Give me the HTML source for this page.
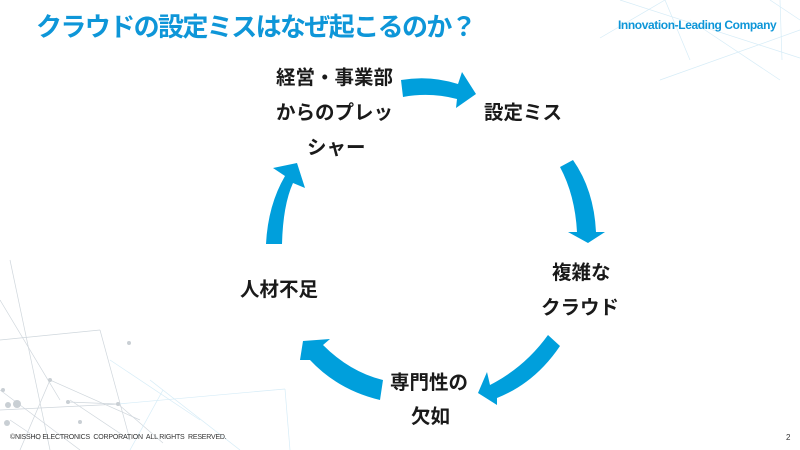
<!DOCTYPE html>
<html><head><meta charset="utf-8"><style>
html,body{margin:0;padding:0;background:#fff}
#c{position:relative;width:800px;height:450px;overflow:hidden;background:#fff;font-family:"Liberation Sans","Noto Sans CJK JP",sans-serif}
.t{position:absolute;font-weight:bold;color:#1a1a1a;font-size:19.5px;line-height:20px;white-space:nowrap}
</style></head><body><div id="c">
<svg width="800" height="450" style="position:absolute;left:0;top:0">
<g stroke="#cfd6dc" stroke-width="0.7" fill="none">
<line x1="0" y1="300" x2="60" y2="400"/><line x1="0" y1="340" x2="100" y2="330"/><line x1="10" y1="260" x2="50" y2="450"/>
<line x1="0" y1="410" x2="120" y2="404"/><line x1="50" y1="380" x2="140" y2="420"/><line x1="20" y1="450" x2="50" y2="380"/>
<line x1="70" y1="400" x2="130" y2="440"/><line x1="0" y1="390" x2="80" y2="450"/><line x1="100" y1="330" x2="130" y2="440"/>
<line x1="118" y1="404" x2="163" y2="443"/><line x1="68" y1="402" x2="118" y2="404"/><line x1="10" y1="420" x2="40" y2="440"/>
</g>
<g stroke="#d6ecf7" stroke-width="0.7" fill="none">
<line x1="118" y1="404" x2="285" y2="389"/><line x1="163" y1="390" x2="130" y2="450"/><line x1="285" y1="389" x2="290" y2="450"/>
<line x1="150" y1="380" x2="240" y2="450"/><line x1="110" y1="360" x2="200" y2="420"/>
<line x1="600" y1="38" x2="665" y2="0"/><line x1="620" y1="0" x2="800" y2="58"/><line x1="665" y1="0" x2="690" y2="60"/>
<line x1="690" y1="20" x2="780" y2="80"/><line x1="770" y1="0" x2="800" y2="20"/><line x1="780" y1="0" x2="782" y2="60"/>
<line x1="660" y1="80" x2="800" y2="30"/>
</g>
<g fill="#c9cfd4"><circle cx="8" cy="405" r="3"/><circle cx="17" cy="404" r="4"/><circle cx="50" cy="380" r="2"/><circle cx="68" cy="402" r="2"/><circle cx="118" cy="404" r="2"/><circle cx="7" cy="423" r="3"/><circle cx="3" cy="390" r="2"/><circle cx="80" cy="422" r="2"/><circle cx="129" cy="343" r="2"/></g>
<g fill="#009fdc">
<path d="M401,80 Q430,75 458,84 L462,72 L476,94 L456,108 L457,99 Q430,92 403,97 Z"/>
<path d="M560,167 L573,160 Q594,190 596,232 L605,232 L588,243 L568,232 L577,232 Q575,195 560,167 Z"/>
<path d="M548,335 L560,346 Q535,383 497,398 L497,405 L478,393 L487,372 L490,385 Q525,367 548,335 Z"/>
<path d="M383,380 L380,400 Q338,390 310,360 L300,360 L303,341 L330,339 L323,345 Q350,372 383,380 Z"/>
<path d="M266,244 L282,244 Q283,205 293,183 L305,188 L297,163 L273,168 L285,176 Q268,205 266,244 Z"/>
</g>
</svg>
<div style="position:absolute;left:36px;top:7px;font-size:26px;font-weight:bold;color:#0e96d8;letter-spacing:-1.6px;white-space:nowrap">クラウドの設定ミスはなぜ起こるのか？</div>
<div style="position:absolute;left:618px;top:18px;font-size:12px;font-weight:bold;color:#0e96d8;letter-spacing:-0.4px;white-space:nowrap">Innovation-Leading Company</div>
<div class="t" style="left:276px;top:68px">経営・事業部</div>
<div class="t" style="left:276px;top:103px">からのプレッ</div>
<div class="t" style="left:307px;top:138px">シャー</div>
<div class="t" style="left:484px;top:103px">設定ミス</div>
<div class="t" style="left:552px;top:263px">複雑な</div>
<div class="t" style="left:541px;top:298px">クラウド</div>
<div class="t" style="left:240px;top:280px">人材不足</div>
<div class="t" style="left:390px;top:373px">専門性の</div>
<div class="t" style="left:411px;top:407px">欠如</div>
<div style="position:absolute;left:10px;top:434px;font-size:7px;color:#333;white-space:nowrap;letter-spacing:-0.2px">©NISSHO ELECTRONICS&nbsp; CORPORATION&nbsp; ALL RIGHTS&nbsp; RESERVED.</div>
<div style="position:absolute;left:786px;top:433px;font-size:8px;color:#333">2</div>
</div></body></html>
